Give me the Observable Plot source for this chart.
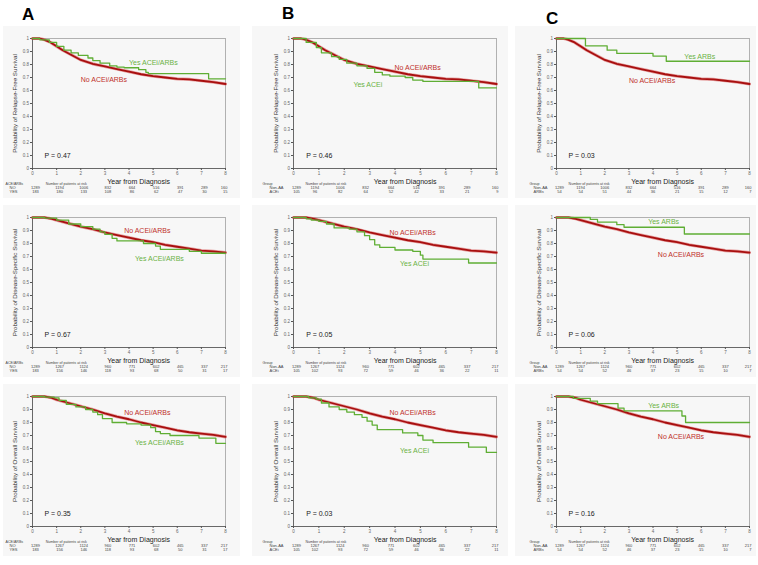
<!DOCTYPE html>
<html><head><meta charset="utf-8">
<script src="https://cdn.jsdelivr.net/npm/d3@7"></script>
<script src="https://cdn.jsdelivr.net/npm/@observablehq/plot@0.6"></script>
<style>
body{margin:0;background:#fff;font-family:"Liberation Sans",Arial,sans-serif}
#root{position:relative;width:758px;height:565px;overflow:hidden;background:#fff}
.bg{position:absolute;background:#f7f7f7}
.letter{position:absolute;font-weight:bold;font-size:17px;line-height:1;font-family:"Liberation Sans",Arial,sans-serif}
svg{overflow:visible}
</style></head><body><div id="root"></div>
<script>
// ---------- data ----------
const years = [0,1,2,3,4,5,6,7,8];
const yTicks = [0,0.1,0.2,0.3,0.4,0.5,0.6,0.7,0.8,0.9,1];
const yLabels = ["Probability of Relapse-Free Survival","Probability of Disease-Specific Survival","Probability of Overall Survival"];
const columnLetters = ["A","B","C"];
const yesNames = ["Yes ACEi/ARBs","Yes ACEi","Yes ARBs"];
const noName = "No ACEi/ARBs";
const groupHeaders = ["ACE/ARBs","Group","Group"];
const rowNames = [["NO","YES"],["Non-AA","ACEi"],["Non-AA","ARBs"]];
const pValues = [["0.47","0.67","0.35"],["0.46","0.05","0.03"],["0.03","0.06","0.16"]];

// No ACEi/ARBs (shared across columns)
const noRFS_t = [0,0.3,0.5,0.75,1,1.25,1.5,1.75,2,2.5,3,3.5,4,4.5,5,5.5,6,6.5,7,7.5,8];
const noRFS_s = [1,1,0.99,0.97,0.94,0.91,0.885,0.86,0.835,0.805,0.785,0.765,0.745,0.725,0.71,0.70,0.69,0.685,0.675,0.665,0.65];
const noDSS_t = [0,0.5,0.8,1,1.5,2,2.5,3,3.5,4,4.5,5,5.5,6,6.5,7,7.5,8];
const noDSS_s = [1,1,0.99,0.98,0.955,0.93,0.91,0.885,0.865,0.845,0.825,0.81,0.79,0.775,0.76,0.745,0.74,0.73];
const noOS_t = [0,0.5,0.8,1,1.5,2,2.5,3,3.5,4,4.5,5,5.5,6,6.5,7,7.5,8];
const noOS_s = [1,1,0.99,0.975,0.95,0.925,0.9,0.87,0.845,0.825,0.8,0.78,0.76,0.74,0.725,0.715,0.705,0.69];

// Yes ACEi/ARBs (A)
const aRFS_t = [0,0.3,0.7,1.0,1.3,1.6,1.9,2.3,2.5,2.8,3.2,3.5,3.8,4.4,4.7,4.8,7.3,8];
const aRFS_s = [1,0.99,0.97,0.94,0.91,0.89,0.87,0.85,0.83,0.81,0.79,0.78,0.775,0.76,0.74,0.73,0.69,0.69];
const aDSS_t = [0,0.5,1.0,1.5,2.0,2.5,2.8,3.0,3.3,3.5,4.6,5.1,5.3,6.5,7.0,8];
const aDSS_s = [1,0.995,0.98,0.95,0.93,0.91,0.89,0.87,0.84,0.82,0.80,0.78,0.755,0.74,0.725,0.725];
const aOS_t = [0,0.5,0.9,1.1,1.4,1.8,2.2,2.5,2.7,2.9,3.3,3.9,4.5,4.9,5.1,5.3,5.7,6.9,7.6,8];
const aOS_s = [1,0.995,0.99,0.97,0.94,0.92,0.90,0.88,0.86,0.83,0.80,0.79,0.78,0.76,0.73,0.715,0.70,0.68,0.64,0.64];
// Yes ACEi (B)
const bRFS_t = [0,0.5,0.9,1.1,1.5,1.8,2.1,2.5,2.9,3.2,3.5,3.8,4.4,4.7,5.1,7.3,8];
const bRFS_s = [1,0.97,0.93,0.89,0.86,0.84,0.81,0.79,0.77,0.74,0.72,0.71,0.70,0.68,0.67,0.62,0.62];
const bDSS_t = [0,0.5,0.7,1.0,1.3,1.6,2.2,2.5,2.8,3.0,3.2,3.4,4.0,4.7,5.0,5.1,6.9,8];
const bDSS_s = [1,0.99,0.98,0.97,0.95,0.92,0.91,0.89,0.86,0.83,0.79,0.77,0.75,0.74,0.71,0.68,0.65,0.65];
const bOS_t = [0,0.6,0.9,1.1,1.4,1.8,2.1,2.4,2.7,2.9,3.1,3.3,4.3,4.9,5.1,5.5,6.9,7.6,8];
const bOS_s = [1,0.99,0.98,0.95,0.92,0.90,0.88,0.86,0.84,0.81,0.78,0.745,0.72,0.70,0.665,0.645,0.61,0.57,0.57];
// Yes ARBs (C)
const cRFS_t = [0,1.2,2.1,2.5,4.0,4.55,8];
const cRFS_s = [1,0.944,0.91,0.885,0.865,0.825,0.825];
const cDSS_t = [0,1.4,1.7,2.5,2.8,5.3,8];
const cDSS_s = [1,0.985,0.965,0.945,0.925,0.873,0.873];
const cOS_t = [0,0.7,1.4,1.7,2.55,2.8,5.2,5.35,8];
const cOS_s = [1,0.985,0.965,0.945,0.91,0.89,0.85,0.80,0.80];

// Number of patients at risk
const riskNoRFS = [1289,1194,1006,832,664,516,391,289,160];
const riskNoDSS = [1289,1267,1124,960,771,602,465,337,217];
const riskNoOS  = [1289,1267,1124,960,771,602,465,337,217];
const riskARFS = [183,180,133,108,86,62,47,30,15];
const riskADSS = [183,156,146,118,93,68,50,31,17];
const riskAOS  = [183,156,146,118,93,68,50,31,17];
const riskBRFS = [105,96,82,64,52,42,33,21,9];
const riskBDSS = [105,102,93,72,59,46,36,22,11];
const riskBOS  = [105,102,93,72,59,46,36,22,11];
const riskCRFS = [54,54,51,44,36,21,15,12,7];
const riskCDSS = [54,54,52,46,37,23,15,10,7];
const riskCOS  = [54,54,52,46,37,23,15,10,7];

// ---------- layout ----------
const RED = "#a80f0f", RED_SOFT = "#d85a5a", RED_TXT = "#c0302a";
const GREEN = "#5fae34", GREEN_TXT = "#6ab244";
const FONT = "Liberation Sans, Arial, sans-serif";
const cols = [{left:32,w:193,num:3,hdr:-27,rowLbl:-23,npr:0.55},{left:293,w:203,num:-4,hdr:-31,rowLbl:-24,npr:0.47},{left:556,w:193,num:0,hdr:-27,rowLbl:-23,npr:0.5}];
const rows = [{top:38},{top:217},{top:396}];
const PH = 130;
const noCurves = [[noRFS_t,noRFS_s],[noDSS_t,noDSS_s],[noOS_t,noOS_s]];
const yesCurves = [
  [[aRFS_t,aRFS_s],[aDSS_t,aDSS_s],[aOS_t,aOS_s]],
  [[bRFS_t,bRFS_s],[bDSS_t,bDSS_s],[bOS_t,bOS_s]],
  [[cRFS_t,cRFS_s],[cDSS_t,cDSS_s],[cOS_t,cOS_s]]
];
const noRisk = [riskNoRFS,riskNoDSS,riskNoOS];
const yesRisk = [[riskARFS,riskADSS,riskAOS],[riskBRFS,riskBDSS,riskBOS],[riskCRFS,riskCDSS,riskCOS]];
// label placement [col][row] : {yes:[t,s], no:[t,s]}
const labelPos = [
  [{yes:[4.0,0.81],no:[2.0,0.68]},{yes:[4.25,0.685],no:[3.8,0.895]},{yes:[4.25,0.646],no:[3.8,0.877]}],
  [{yes:[2.36,0.646],no:[3.98,0.777]},{yes:[4.2,0.646],no:[3.78,0.88]},{yes:[4.2,0.585],no:[3.78,0.877]}],
  [{yes:[5.3,0.86],no:[3.0,0.677]},{yes:[3.8,0.964],no:[4.2,0.715]},{yes:[3.8,0.93],no:[4.2,0.69]}]
];
const bgBoxes = [{x:3,w:237},{x:252,w:256},{x:515,w:241}];
const letterPos = [{x:22,y:6},{x:282,y:5},{x:546,y:10}];

const root = document.getElementById("root");
const km = (t, s) => t.map((x, i) => ({t: x, s: s[i]}));

for (let c = 0; c < 3; c++) {
  for (let r = 0; r < 3; r++) {
    const bg = document.createElement("div");
    bg.className = "bg";
    Object.assign(bg.style, {left: bgBoxes[c].x + "px", width: bgBoxes[c].w + "px", top: (rows[r].top - 12) + "px", height: (PH + 42) + "px"});
    root.appendChild(bg);
  }
}
for (let c = 0; c < 3; c++) {
  const L = document.createElement("div");
  L.className = "letter";
  L.textContent = columnLetters[c];
  Object.assign(L.style, {left: letterPos[c].x + "px", top: letterPos[c].y + "px"});
  root.appendChild(L);
}

const ml = 40, mr = 12, mt = 10, mb = 34;
for (let c = 0; c < 3; c++) {
  const col = cols[c];
  for (let r = 0; r < 3; r++) {
    const no = km(...noCurves[r]);
    const yes = km(...yesCurves[c][r]);
    const lp = labelPos[c][r];
    const nr = noRisk[r], yr = yesRisk[c][r];
    const numMarks = (vals, dy) => {
      const rowData = years.map((t, i) => ({t, n: String(vals[i])}));
      return [
        Plot.text(rowData.slice(0, 1), {x: "t", y: () => 0, text: "n", dy, dx: 3, fontSize: 4, fill: "#444", textAnchor: "middle"}),
        Plot.text(rowData.slice(1, 8), {x: "t", y: () => 0, text: "n", dy, dx: col.num, fontSize: 4, fill: "#444", textAnchor: "middle"}),
        Plot.text(rowData.slice(8), {x: "t", y: () => 0, text: "n", dy, dx: 2, fontSize: 4, fill: "#444", textAnchor: "end"})
      ];
    };
    const svg = Plot.plot({
      width: col.w + ml + mr, height: PH + mt + mb,
      marginLeft: ml, marginRight: mr, marginTop: mt, marginBottom: mb,
      style: {background: "transparent", fontFamily: FONT, overflow: "visible"},
      x: {domain: [0, 8]},
      y: {domain: [0, 1]},
      marks: [
        Plot.frame({stroke: "#a0a0a0", strokeWidth: 0.8}),
        Plot.ruleY([0], {stroke: "#555", strokeWidth: 0.8}),
        Plot.ruleX([0], {stroke: "#555", strokeWidth: 0.8}),
        Plot.axisX({ticks: years, tickSize: 2, tickPadding: 1, fontSize: 4.5, label: null, stroke: "#555", fill: "#666", tickFormat: d => String(d)}),
        Plot.axisY({ticks: yTicks, tickSize: 2, tickPadding: 1.5, fontSize: 4.5, label: null, stroke: "#555", fill: "#666", tickFormat: d => String(d)}),
        Plot.line(no, {x: "t", y: "s", stroke: RED_SOFT, strokeWidth: 3.2, strokeOpacity: 0.55}),
        Plot.line(no, {x: "t", y: "s", stroke: RED, strokeWidth: 1.8}),
        Plot.line(yes, {x: "t", y: "s", stroke: GREEN, strokeWidth: 1.3, curve: "step-after"}),
        Plot.text([noName], {x: lp.no[0], y: lp.no[1], fill: RED_TXT, fontSize: 7, textAnchor: "start"}),
        Plot.text([yesNames[c]], {x: lp.yes[0], y: lp.yes[1], fill: GREEN_TXT, fontSize: 7, textAnchor: "start"}),
        Plot.text(["P = " + pValues[c][r]], {x: 0.5, y: 0.1, fontSize: 7, fill: "#222", textAnchor: "start"}),
        Plot.text([yLabels[r]], {frameAnchor: "left", rotate: -90, dx: -17, fontSize: 6.2, fill: "#333", textAnchor: "middle"}),
        Plot.text(["Year from Diagnosis"], {x: 4.4, y: 0, dy: 13, fontSize: 7, fill: "#222"}),
        Plot.text([groupHeaders[c]], {x: 0, y: 0, dx: col.hdr, dy: 15, fontSize: 3.6, fill: "#444", textAnchor: "start"}),
        Plot.text(["Number of patients at risk"], {x: col.npr, y: 0, dy: 15, fontSize: 3.6, fill: "#444", textAnchor: "start"}),
        Plot.text([rowNames[c][0]], {x: 0, y: 0, dx: col.rowLbl, dy: 19.5, fontSize: 4, fill: "#444", textAnchor: "start"}),
        Plot.text([rowNames[c][1]], {x: 0, y: 0, dx: col.rowLbl, dy: 23.5, fontSize: 4, fill: "#444", textAnchor: "start"}),
        ...numMarks(nr, 19.5),
        ...numMarks(yr, 23.5)
      ]
    });
    svg.style.position = "absolute";
    svg.style.left = (col.left - ml) + "px";
    svg.style.top = (rows[r].top - mt) + "px";
    root.appendChild(svg);
  }
}
</script></body></html>
